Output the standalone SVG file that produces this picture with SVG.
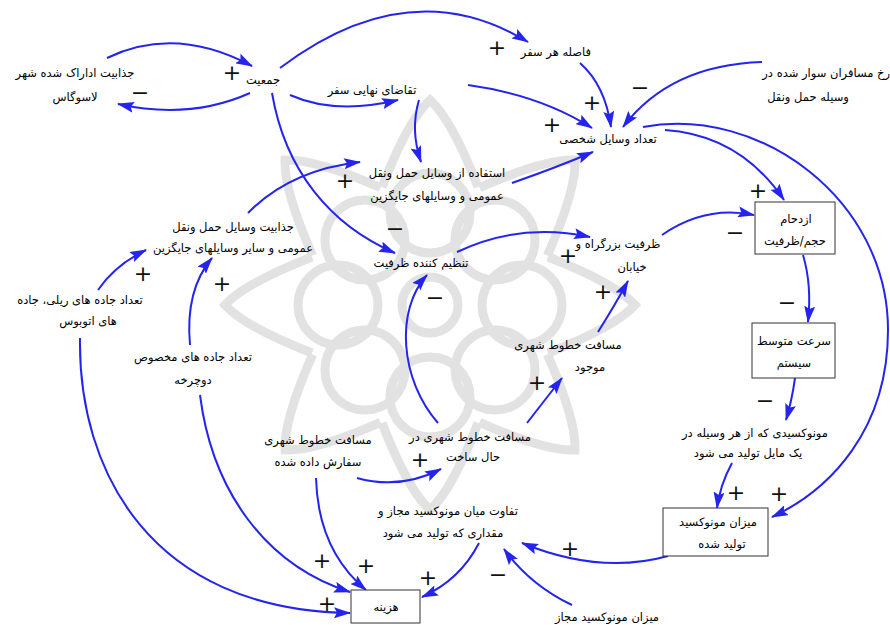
<svg xmlns="http://www.w3.org/2000/svg" width="890" height="625" viewBox="0 0 890 625">
<defs>
<style>
.t{font-family:"DejaVu Sans",sans-serif;font-size:11.5px;fill:#000;text-anchor:middle}
.s{font-family:"DejaVu Sans",sans-serif;font-size:22px;fill:#111;text-anchor:middle;dominant-baseline:central}
.c{fill:none;stroke:#2424ee;stroke-width:2;marker-end:url(#ah)}
.b{fill:#fff;stroke:#333;stroke-width:1}
.w{fill:none;stroke:#e2e2e2;stroke-width:9}
</style>
<marker id="ah" markerUnits="userSpaceOnUse" markerWidth="17" markerHeight="11" refX="16" refY="5.5" orient="auto">
<path d="M0,0 L17,5.5 L0,11 L3,5.5 z" fill="#2424ee"/>
</marker>
<g id="petal">
<path d="M-48,-118 Q-22,-185 0,-205 Q22,-185 48,-118"/>
<circle cx="0" cy="-92" r="40"/>
</g>
</defs>
<rect width="890" height="625" fill="#fff"/>
<g id="watermark" class="w" transform="translate(430,305)">
<use href="#petal"/>
<use href="#petal" transform="rotate(45)"/>
<use href="#petal" transform="rotate(90)"/>
<use href="#petal" transform="rotate(135)"/>
<use href="#petal" transform="rotate(180)"/>
<use href="#petal" transform="rotate(225)"/>
<use href="#petal" transform="rotate(270)"/>
<use href="#petal" transform="rotate(315)"/>
<circle cx="0" cy="0" r="28"/>
</g>
<g id="connectors">
<path class="c" d="M107,58 Q175,25 252,66"/>
<path class="c" d="M250,93 Q190,120 118,104"/>
<path class="c" d="M280,68 Q410,-30 528,42"/>
<path class="c" d="M290,95 Q335,115 398,100"/>
<path class="c" d="M272,93 C285,170 330,225 395,253"/>
<path class="c" d="M419,100 Q410,130 421,162"/>
<path class="c" d="M468,85 Q540,95 592,128"/>
<path class="c" d="M580,63 Q605,85 611,127"/>
<path class="c" d="M762,62 Q670,65 623,127"/>
<path class="c" d="M512,183 Q555,168 593,152"/>
<path class="c" d="M665,130 Q740,135 784,200"/>
<path class="c" d="M643,127 C760,105 888,200 888,330 C888,430 830,490 772,517"/>
<path class="c" d="M248,213 Q290,170 360,162"/>
<path class="c" d="M98,290 Q115,265 146,250"/>
<path class="c" d="M190,345 Q185,290 212,258"/>
<path class="c" d="M80,338 C78,470 150,610 350,613"/>
<path class="c" d="M200,395 C212,490 265,565 350,592"/>
<path class="c" d="M316,478 Q318,550 366,590"/>
<path class="c" d="M357,478 Q400,490 441,469"/>
<path class="c" d="M438,423 C400,380 395,310 427,275"/>
<path class="c" d="M527,423 Q545,400 562,378"/>
<path class="c" d="M598,332 Q615,305 628,281"/>
<path class="c" d="M457,252 Q520,222 590,237"/>
<path class="c" d="M662,235 Q705,205 754,215"/>
<path class="c" d="M803,255 Q812,285 808,322"/>
<path class="c" d="M795,378 Q792,400 786,420"/>
<path class="c" d="M732,463 Q720,485 717,508"/>
<path class="c" d="M668,556 Q600,575 522,543"/>
<path class="c" d="M572,605 Q530,585 504,549"/>
<path class="c" d="M479,543 Q460,580 422,597"/>
</g>
<g id="polarities">
<text class="s" x="232" y="72">+</text>
<text class="s" x="140" y="92">−</text>
<text class="s" x="497" y="47">+</text>
<text class="s" x="592" y="102">+</text>
<text class="s" x="552" y="124">+</text>
<text class="s" x="640" y="87">−</text>
<text class="s" x="345" y="180">+</text>
<text class="s" x="395" y="228">−</text>
<text class="s" x="758" y="190">+</text>
<text class="s" x="735" y="232">−</text>
<text class="s" x="568" y="255">+</text>
<text class="s" x="143" y="273">+</text>
<text class="s" x="222" y="283">+</text>
<text class="s" x="435" y="297">−</text>
<text class="s" x="603" y="291">+</text>
<text class="s" x="787" y="302">−</text>
<text class="s" x="765" y="400">−</text>
<text class="s" x="537" y="382">+</text>
<text class="s" x="420" y="459">+</text>
<text class="s" x="736" y="492">+</text>
<text class="s" x="779" y="493">+</text>
<text class="s" x="570" y="548">+</text>
<text class="s" x="498" y="574">−</text>
<text class="s" x="428" y="577">+</text>
<text class="s" x="366" y="565">+</text>
<text class="s" x="322" y="560">+</text>
<text class="s" x="327" y="603">+</text>
</g>
<g id="n1"><text class="t" x="75" y="77">جذابیت اداراک شده شهر</text><text class="t" x="75" y="101">لاسوگاس</text></g>
<g id="n2"><text class="t" x="263" y="84">جمعیت</text></g>
<g id="n3"><text class="t" x="556" y="56">فاصله هر سفر</text></g>
<g id="n4"><text class="t" x="372" y="94">تقاضای نهایی سفر</text></g>
<g id="n5"><text class="t" x="890" y="77" style="text-anchor:end">رخ مسافران سوار شده در</text><text class="t" x="808" y="101">وسیله حمل ونقل</text></g>
<g id="n6"><text class="t" x="608" y="143">تعداد وسایل شخصی</text></g>
<g id="n7"><text class="t" x="437" y="177">استفاده از وسایل حمل ونقل</text><text class="t" x="437" y="200">عمومی و وسایلهای جایگزین</text></g>
<g id="n8"><text class="t" x="233" y="231">جذابیت وسایل حمل ونقل</text><text class="t" x="233" y="252">عمومی و سایر وسایلهای جایگزین</text></g>
<g id="n9"><text class="t" x="421" y="267">تنظیم کننده ظرفیت</text></g>
<g id="n10"><text class="t" x="618" y="248">ظرفیت بزرگراه و</text><text class="t" x="632" y="271">خیابان</text></g>
<g id="n11"><rect class="b" x="755" y="202" width="80" height="52"/><text class="t" x="796" y="223">ازدحام</text><text class="t" x="795" y="245">حجم/ظرفیت</text></g>
<g id="n12"><rect class="b" x="752" y="323" width="83" height="55"/><text class="t" x="794" y="345">سرعت متوسط</text><text class="t" x="794" y="367">سیستم</text></g>
<g id="n13"><text class="t" x="755" y="437">مونوکسیدی که از هر وسیله در</text><text class="t" x="748" y="457">یک مایل تولید می شود</text></g>
<g id="n14"><rect class="b" x="663" y="508" width="105" height="48"/><text class="t" x="718" y="526">میزان مونوکسید</text><text class="t" x="722" y="548">تولید شده</text></g>
<g id="n15"><text class="t" x="80" y="304">تعداد جاده های ریلی، جاده</text><text class="t" x="88" y="325">های اتوبوس</text></g>
<g id="n16"><text class="t" x="193" y="361">تعداد جاده های مخصوص</text><text class="t" x="193" y="384">دوچرخه</text></g>
<g id="n17"><text class="t" x="568" y="349">مسافت خطوط شهری</text><text class="t" x="590" y="371">موجود</text></g>
<g id="n18"><text class="t" x="470" y="441">مسافت خطوط شهری در</text><text class="t" x="473" y="461">حال ساخت</text></g>
<g id="n19"><text class="t" x="318" y="444">مسافت خطوط شهری</text><text class="t" x="318" y="466">سفارش داده شده</text></g>
<g id="n20"><text class="t" x="448" y="515">تفاوت میان مونوکسید مجاز و</text><text class="t" x="443" y="537">مقداری که تولید می شود</text></g>
<g id="n21"><rect class="b" x="351" y="590" width="69" height="33"/><text class="t" x="386" y="611">هزینه</text></g>
<g id="n22"><text class="t" x="607" y="621">میزان مونوکسید مجاز</text></g>
</svg>
